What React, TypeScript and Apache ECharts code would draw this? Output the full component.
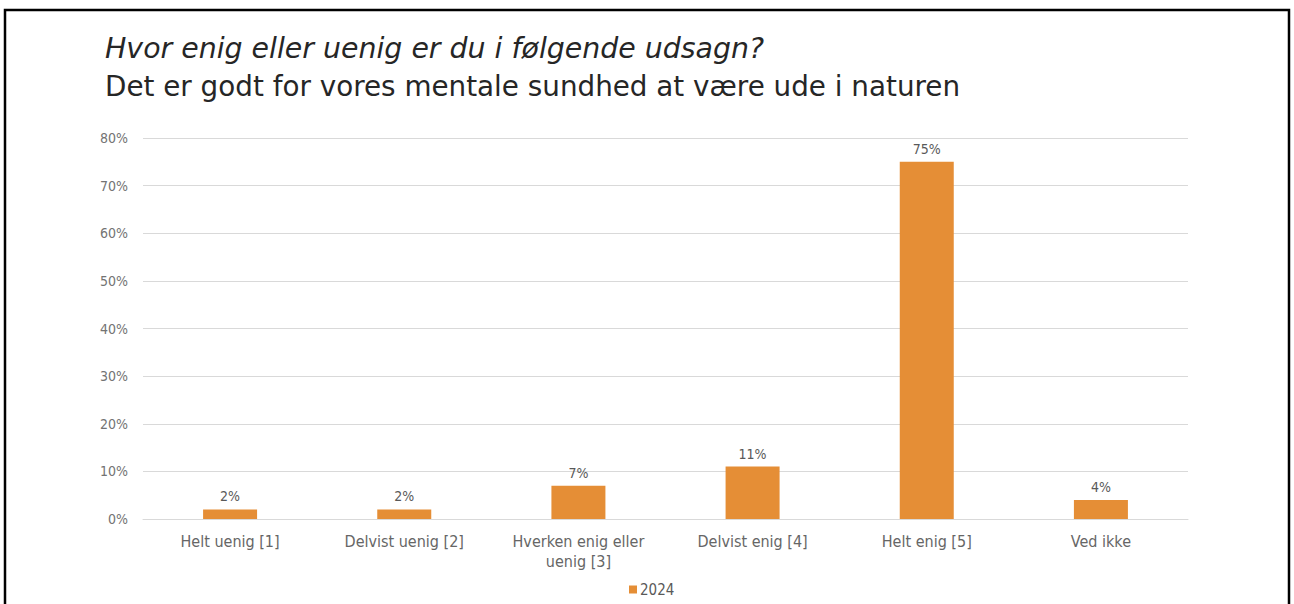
import React, { useEffect, useRef } from "react";
import * as echarts from "echarts";

const titleLine1 = "Hvor enig eller uenig er du i følgende udsagn?";
const titleLine2 = "Det er godt for vores mentale sundhed at være ude i naturen";
const categories = [
  "Helt uenig [1]",
  "Delvist uenig [2]",
  "Hverken enig eller\nuenig [3]",
  "Delvist enig [4]",
  "Helt enig [5]",
  "Ved ikke",
];
const seriesName = "2024";
const values = [2, 2, 7, 11, 75, 4];
const yMax = 80;
const yInterval = 10;

const LABEL_FONT = "'DejaVu Sans Condensed', 'DejaVu Sans', sans-serif";
const TITLE_FONT = "'DejaVu Sans', sans-serif";
const GRAY = "#595959";
const ORANGE = "#E58E36";

export default function App() {
  const ref = useRef<HTMLDivElement>(null);
  useEffect(() => {
    if (!ref.current) return;
    const chart = echarts.init(ref.current, null, { renderer: "svg" });
    chart.setOption({
      animation: false,
      backgroundColor: "#ffffff",
      title: {
        text: titleLine1,
        subtext: titleLine2,
        left: 105,
        top: 32,
        itemGap: 6,
        padding: 0,
        textStyle: {
          fontFamily: TITLE_FONT,
          fontStyle: "italic",
          fontWeight: "normal",
          fontSize: 28.4,
          lineHeight: 32,
          color: "#262626",
        },
        subtextStyle: {
          fontFamily: TITLE_FONT,
          fontSize: 27.8,
          lineHeight: 32,
          color: "#262626",
        },
      },
      graphic: [
        {
          type: "rect",
          shape: { x: 5, y: 10, width: 1284, height: 620 },
          style: { fill: "none", stroke: "#000000", lineWidth: 2.5 },
          z: 100,
        },
      ],
      legend: {
        data: [seriesName],
        left: 629,
        top: 582,
        itemWidth: 8,
        itemHeight: 8,
        itemGap: 4,
        icon: "rect",
        padding: 0,
        textStyle: { fontFamily: LABEL_FONT, fontSize: 15, color: GRAY, padding: [0, 0, 0, -2] },
      },
      grid: { left: 143, right: 106, top: 138, bottom: 85, containLabel: false },
      xAxis: {
        type: "category",
        data: categories,
        axisLine: { show: true, lineStyle: { color: "#d9d9d9", width: 1 } },
        axisTick: { show: false },
        axisLabel: {
          fontFamily: LABEL_FONT,
          fontSize: 16,
          color: "#666666",
          margin: 12,
          lineHeight: 20,
          interval: 0,
        },
      },
      yAxis: {
        type: "value",
        min: 0,
        max: yMax,
        interval: yInterval,
        axisLine: { show: false },
        axisTick: { show: false },
        splitLine: { lineStyle: { color: "#d9d9d9", width: 1 } },
        axisLabel: {
          fontFamily: LABEL_FONT,
          fontSize: 14,
          color: "#737373",
          margin: 15,
          formatter: "{value}%",
        },
      },
      series: [
        {
          name: seriesName,
          type: "bar",
          data: values,
          barWidth: 54,
          itemStyle: { color: ORANGE },
          label: {
            show: true,
            position: "top",
            distance: 6,
            formatter: "{c}%",
            fontFamily: LABEL_FONT,
            fontSize: 14,
            color: GRAY,
          },
        },
      ],
    });
    return () => chart.dispose();
  }, []);
  return (
    <div
      ref={ref}
      style={{ position: "fixed", left: 0, top: 0, width: 1294, height: 604 }}
    />
  );
}
